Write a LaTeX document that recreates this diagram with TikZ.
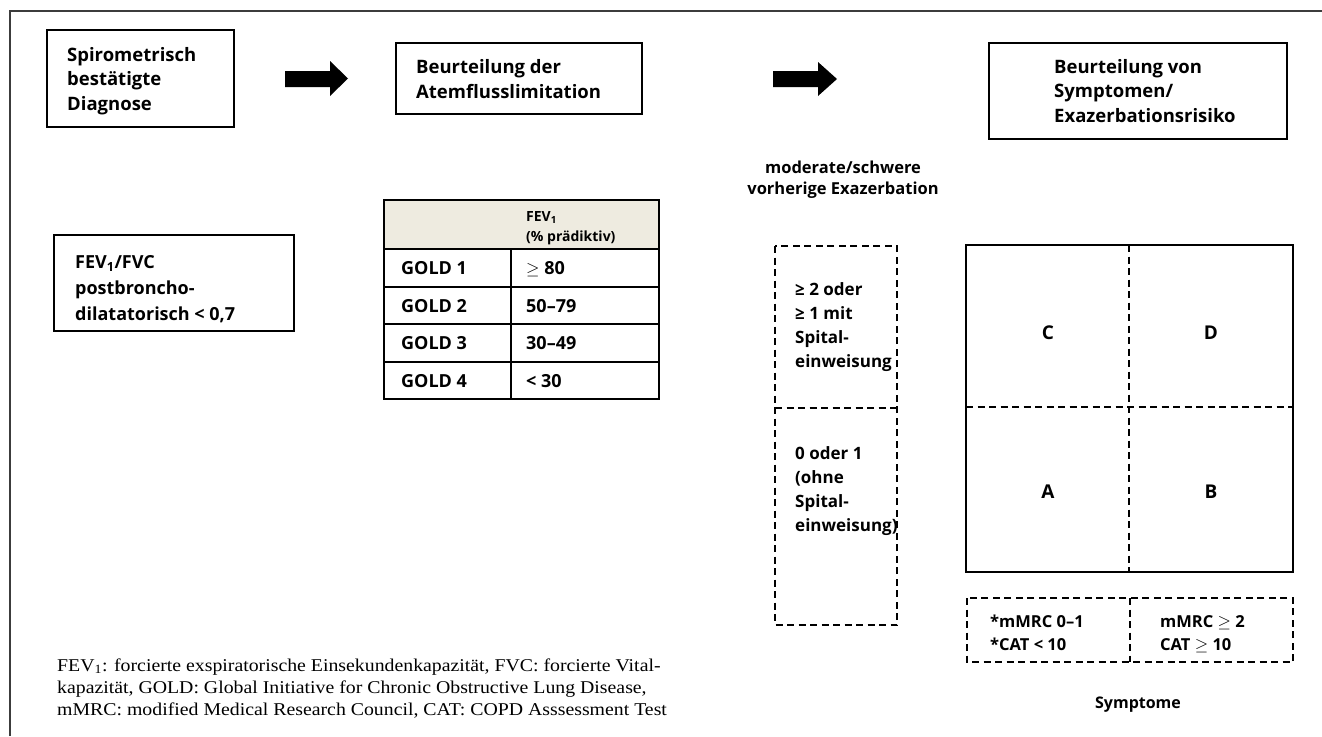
\documentclass[tikz,border=0pt]{standalone}
\usepackage{fontspec}
\setmainfont[FakeStretch=1.1]{Liberation Serif}
\setsansfont{Open Sans}
\definecolor{hdrfill}{RGB}{238,235,224}
\definecolor{framegray}{RGB}{60,60,60}

\begin{document}
\begin{tikzpicture}[x=1pt,y=-1pt,
  lbl/.style={font=\sffamily\bfseries\fontsize{18.5}{24.5}\selectfont,align=left,anchor=base west,inner sep=0pt},
  cell/.style={font=\sffamily\bfseries\fontsize{18}{22}\selectfont,anchor=base west,inner sep=0pt},
  small/.style={font=\sffamily\bfseries\fontsize{14}{19.5}\selectfont,align=left,anchor=base west,inner sep=0pt},
  letter/.style={font=\sffamily\bfseries\fontsize{19}{23}\selectfont,inner sep=0pt},
  note/.style={font=\rmfamily\fontsize{18}{22}\selectfont,align=left,anchor=base west,inner sep=0pt},
  box/.style={draw,line width=1.6pt,anchor=north west,inner sep=0pt},
  dashline/.style={line width=1.6pt,dash pattern=on 7pt off 4.5pt}]
\useasboundingbox (0,0) rectangle (1322,736);
\draw[framegray,line width=1.2pt] (10,736) -- (10,11) -- (1322,11);

\node[box,minimum width=187,minimum height=97] (diag) at (46,29) {};
\node[lbl] (diagtxt) at (67,110) {Spirometrisch\\bestätigte\\Diagnose};
\node[box,minimum width=246,minimum height=71] (flow) at (395,42) {};
\node[lbl] (flowtxt) at (416,98) {Beurteilung der\\Atemflusslimitation};
\node[box,minimum width=298,minimum height=96] (risk) at (988,42) {};
\node[lbl] (risktxt) at (1054,122) {Beurteilung von\\Symptomen/\\Exazerbationsrisiko};

\fill (285,71) -- ++(45,0) -- ++(0,-10) -- (348,78.5) -- (330,96) -- ++(0,-9) -- (285,87) -- cycle;
\fill (773,71) -- ++(45,0) -- ++(0,-9) -- (837,79) -- (818,96) -- ++(0,-9) -- (773,87) -- cycle;

\node[box,minimum width=240,minimum height=96] (ratio) at (53,234) {};
\node[lbl,font=\sffamily\bfseries\fontsize{18}{26}\selectfont] (ratiotxt) at (75,320) {FEV\textsubscript{1}/FVC\\postbroncho-\\dilatatorisch < 0,7};

\fill[hdrfill] (384,200) rectangle (659,249);
\draw[line width=1.6pt] (384,200) rectangle (659,399);
\draw[line width=1.6pt] (384,249) -- (659,249);
\draw[line width=1.6pt] (384,287) -- (659,287);
\draw[line width=1.6pt] (384,324) -- (659,324);
\draw[line width=1.6pt] (384,362) -- (659,362);
\draw[line width=1.6pt] (511,249) -- (511,399);
\node[small] (hdr) at (526,241) {FEV\textsubscript{1}\\(\% prädiktiv)};
\node[cell] (g1) at (401,274.5) {GOLD 1};
\node[cell] (g2) at (401,312) {GOLD 2};
\node[cell] (g3) at (401,349.5) {GOLD 3};
\node[cell] (g4) at (401,387) {GOLD 4};
\node[cell] (v1) at (526,274.5) {$\geq$ 80};
\node[cell] (v2) at (526,312) {50–79};
\node[cell] (v3) at (526,349.5) {30–49};
\node[cell] (v4) at (526,387) {< 30};

\node[lbl,align=center,anchor=base,font=\sffamily\bfseries\fontsize{16.5}{21}\selectfont] (exhead) at (843,194) {moderate/schwere\\vorherige Exazerbation};
\draw[dashline] (775,246) rectangle (897,625);
\draw[dashline] (775,408) -- (897,408);
\node[lbl,font=\sffamily\bfseries\fontsize{17}{23.7}\selectfont] (exhigh) at (795,367) {≥ 2 oder\\≥ 1 mit\\Spital-\\einweisung};
\node[lbl,font=\sffamily\bfseries\fontsize{17}{23.7}\selectfont] (exlow) at (795,531) {0 oder 1\\(ohne\\Spital-\\einweisung)};

\draw[line width=1.6pt] (966,245) rectangle (1293,572);
\draw[dashline] (966,407) -- (1293,407);
\draw[dashline] (1129,245) -- (1129,572);
\node[letter] (qc) at (1048,333) {C};
\node[letter] (qd) at (1211,333) {D};
\node[letter] (qa) at (1048,492) {A};
\node[letter] (qb) at (1211,492) {B};

\draw[dashline] (967,598) rectangle (1293,662);
\draw[dashline] (1130,598) -- (1130,662);
\node[lbl,font=\sffamily\bfseries\fontsize{16.5}{23}\selectfont] (symlow) at (990,650) {*mMRC 0–1\\*CAT < 10};
\node[lbl,font=\sffamily\bfseries\fontsize{16.5}{23}\selectfont] (symhigh) at (1160,650) {mMRC $\geq$ 2\\CAT $\geq$ 10};
\node[lbl,anchor=base,font=\sffamily\bfseries\fontsize{16}{20}\selectfont] (symtitle) at (1138,708) {Symptome};

\node[note] (legend) at (57,715) {FEV\textsubscript{1}: forcierte exspiratorische Einsekundenkapazität, FVC: forcierte Vital-\\kapazität, GOLD: Global Initiative for Chronic Obstructive Lung Disease,\\mMRC: modified Medical Research Council, CAT: COPD Asssessment Test};
\end{tikzpicture}
\end{document}
